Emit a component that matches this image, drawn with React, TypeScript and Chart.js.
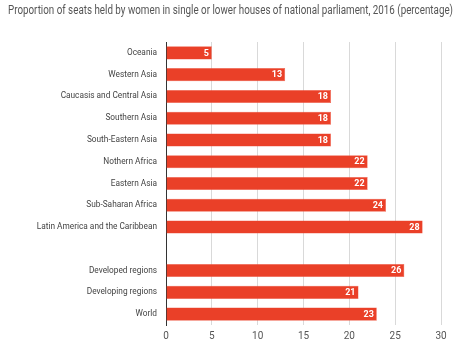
import React, { useEffect, useRef } from "react";
import { Chart, registerables } from "chart.js";

Chart.register(...registerables);

const titleText =
  "Proportion of seats held by women in single or lower houses of national parliament, 2016 (percentage)";

const categories = [
  "Oceania",
  "Western Asia",
  "Caucasis and Central Asia",
  "Southern Asia",
  "South-Eastern Asia",
  "Nothern Africa",
  "Eastern Asia",
  "Sub-Saharan Africa",
  "Latin America and the Caribbean",
  "",
  "Developed regions",
  "Developing regions",
  "World",
];

const values: (number | null)[] = [5, 13, 18, 18, 18, 22, 22, 24, 28, null, 26, 21, 23];

const xTicks = [0, 5, 10, 15, 20, 25, 30];

const barLabels = {
  id: "barLabels",
  afterDatasetsDraw(chart: any) {
    const ctx = chart.ctx;
    const meta = chart.getDatasetMeta(0);
    ctx.save();
    ctx.fillStyle = "#ffffff";
    ctx.font = "bold 9px Roboto, Arial, sans-serif";
    ctx.textAlign = "right";
    ctx.textBaseline = "middle";
    meta.data.forEach((el: any, i: number) => {
      const v = values[i];
      if (v == null) return;
      ctx.fillText(String(v), el.x - 3, el.y + 0.5);
    });
    ctx.restore();
  },
};

const titleDraw = {
  id: "titleDraw",
  afterDraw(chart: any) {
    const ctx = chart.ctx;
    ctx.save();
    ctx.fillStyle = "#555555";
    ctx.font = "12.5px Roboto, sans-serif";
    ctx.textAlign = "left";
    ctx.textBaseline = "middle";
    ctx.fillText(titleText, 8, 10.5, 445);
    ctx.restore();
  },
};

export default function App() {
  const ref = useRef<HTMLCanvasElement>(null);
  useEffect(() => {
    const chart = new Chart(ref.current!, {
      type: "bar",
      data: {
        labels: categories,
        datasets: [
          {
            data: values,
            backgroundColor: "#ea4028",
            borderColor: "#f05a45",
            borderWidth: 0.5,
            barPercentage: 0.6,
            categoryPercentage: 1,
          },
        ],
      },
      options: {
        indexAxis: "y",
        animation: false,
        responsive: false,
        maintainAspectRatio: false,
        layout: { padding: { top: 42, left: 8, right: 33, bottom: 0 } },
        plugins: {
          legend: { display: false },
          tooltip: { enabled: false },
          title: { display: false },
        },
        scales: {
          x: {
            min: 0,
            max: 30,
            afterBuildTicks: (scale: any) => {
              scale.ticks = xTicks.map((v) => ({ value: v }));
            },
            afterFit: (scale: any) => {
              scale.height = 26;
            },
            grid: {
              color: (c: any) => (c.tick && c.tick.value === 0 ? "#333333" : "#d9d9d9"),
              drawTicks: false,
            },
            border: { display: false },
            ticks: { color: "#555555", font: { family: "Roboto, sans-serif", size: 10 }, padding: 5 },
          },
          y: {
            afterFit: (scale: any) => {
              scale.width = 158;
            },
            grid: { display: false, drawTicks: false },
            border: { display: true, color: "#333333" },
            ticks: { color: "#444444", font: { family: "Roboto, sans-serif", size: 8.3 }, padding: 9, autoSkip: false },
          },
        },
      },
      plugins: [barLabels, titleDraw],
    });
    return () => chart.destroy();
  }, []);
  return (
    <div style={{ position: "fixed", left: 0, top: 0, width: 474, height: 351, background: "#fff" }}>
      <canvas ref={ref} width={474} height={351} style={{ width: 474, height: 351 }} />
    </div>
  );
}
